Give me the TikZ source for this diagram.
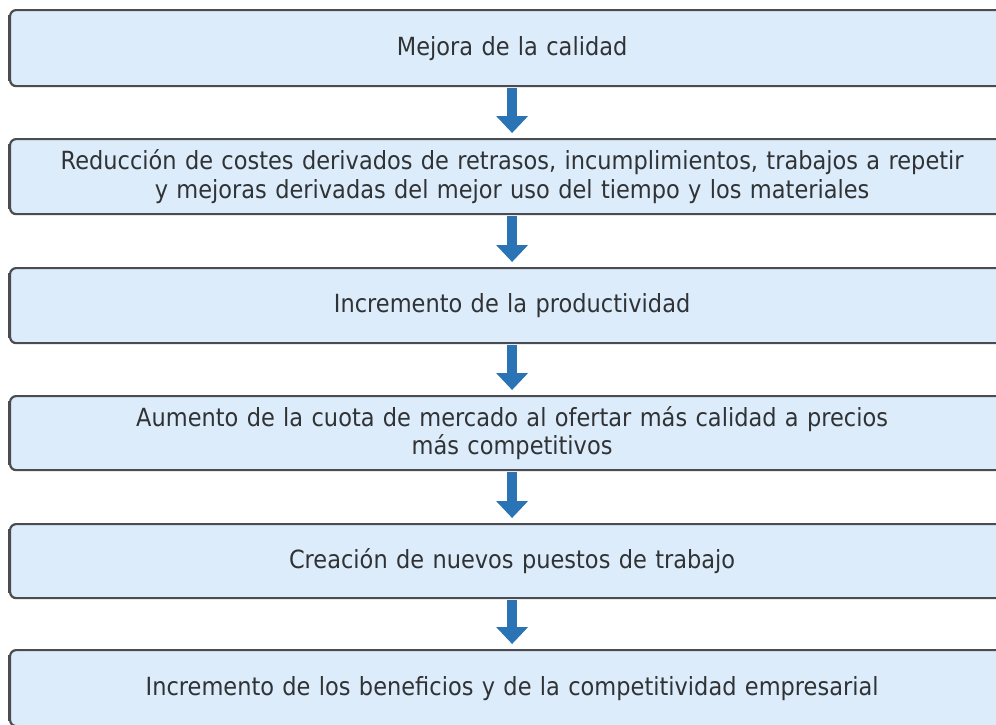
\documentclass[tikz,border=0pt]{standalone}
\usepackage{fontspec}
\setmainfont{DejaVu Sans}[FakeStretch=0.9]
\usetikzlibrary{arrows.meta,calc}
\definecolor{boxfill}{HTML}{DDECFA}
\definecolor{boxline}{HTML}{4A4C50}
\definecolor{txt}{HTML}{303336}
\definecolor{arr}{HTML}{2A73B5}
\tikzset{
  stagebox/.style={draw=boxline, fill=boxfill, line width=2.2pt, rounded corners=6pt,
    minimum width=1004pt, text width=990pt, align=center, inner sep=0pt,
    anchor=north west, text=txt, font=\fontsize{25}{28.5}\selectfont},
  leftedge/.style={boxline, line width=3.5pt},
  flowarrow/.style={arr, line width=10pt,
    -{Triangle[width=31pt,length=17pt]}, shorten >=5pt}
}
\begin{document}
\begin{tikzpicture}[x=1pt,y=-1pt]
\useasboundingbox (0,0) rectangle (996,724);
\clip (0,0) rectangle (996,724);
\node[stagebox, minimum height=76pt] (b1) at (9,9) {Mejora de la calidad};
\node[stagebox, minimum height=75pt] (b2) at (9,138) {Reducción de costes derivados de retrasos, incumplimientos, trabajos a repetir\\y mejoras derivadas del mejor uso del tiempo y los materiales};
\node[stagebox, minimum height=75pt] (b3) at (9,267) {Incremento de la productividad};
\node[stagebox, minimum height=74pt] (b4) at (9,395) {Aumento de la cuota de mercado al ofertar más calidad a precios\\más competitivos};
\node[stagebox, minimum height=74pt] (b5) at (9,523) {Creación de nuevos puestos de trabajo};
\node[stagebox, minimum height=76pt] (b6) at (9,649) {Incremento de los beneficios y de la competitividad empresarial};
\foreach \b in {b1,b2,b3,b4,b5,b6}{
  \draw[leftedge] ($(\b.north west)+(0.6,6)$) -- ($(\b.south west)+(0.6,-6)$);
}
\foreach \a/\b in {b1/b2,b2/b3,b3/b4,b4/b5,b5/b6}{
  \draw[flowarrow] ($(\a.south)+(0,1)$) -- (\b.north);
}
\end{tikzpicture}
\end{document}
